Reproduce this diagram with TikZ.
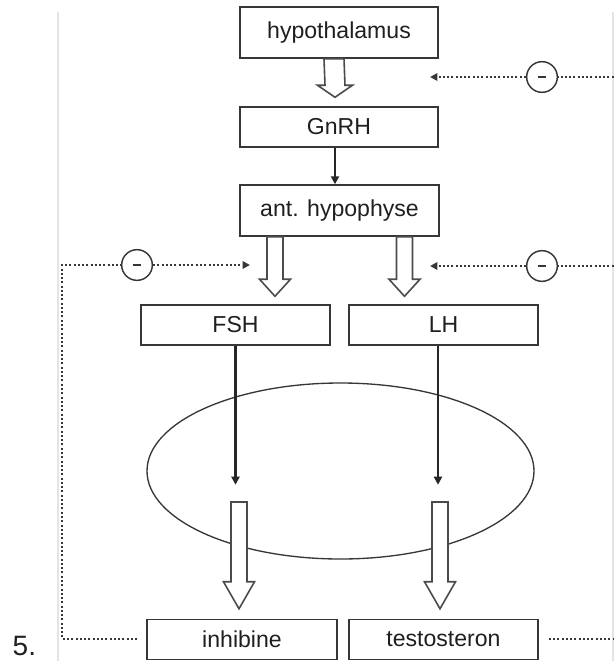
\documentclass[tikz,border=0pt]{standalone}
\usepackage{fontspec}
\setmainfont{Liberation Sans}
\usepackage{tikz}
\usetikzlibrary{arrows.meta,positioning,calc,shapes.geometric}
\definecolor{linegrey}{RGB}{55,55,55}
\definecolor{bordergrey}{RGB}{228,228,228}

% hollow block arrow: start, tip, head length, shaft half width
\newcommand{\fatarrow}[4]{%
  \draw[hollow] ($(#1)+(-#4,0)$) -- ($(#2)+(-#4,-#3)$) -- ($(#2)+(-#4-7.5,-#3)$) -- (#2)
    -- ($(#2)+(#4+7.5,-#3)$) -- ($(#2)+(#4,-#3)$) -- ($(#1)+(#4,0)$) -- cycle;}

\begin{document}
\begin{tikzpicture}[x=0.75pt, y=-0.75pt,
  every node/.style={font=\fontsize{17.3}{20}\selectfont, text=black!88},
  box/.style={draw=linegrey, line width=1.1pt, inner sep=0pt},
  hollow/.style={draw=linegrey!90, line width=1.2pt, fill=white, line join=miter},
  thinarrow/.style={draw=black!85, line width=1.6pt, -{Triangle[length=6pt,width=6pt]}},
  fb/.style={draw=linegrey, line width=2pt, dash pattern=on 1.5pt off 1.7pt},
  fbarrow/.style={fb, -{Triangle[length=5.5pt,width=5.5pt]}},
  minusnode/.style={circle, draw=linegrey, line width=1.1pt, minimum size=23pt, inner sep=0pt, fill=white,
    path picture={\draw[line width=2.2pt] ([xshift=-3.2pt]path picture bounding box.center) -- ([xshift=3.2pt]path picture bounding box.center);}}]
\useasboundingbox (0,0) rectangle (614,661);
% page borders
\draw[bordergrey, line width=0.8pt] (58,12) -- (58,661);
\draw[bordergrey, line width=0.8pt] (613,12) -- (613,661);

% boxes
\node[box, minimum width=148.5pt, minimum height=38.25pt] (hyp) at (339,32.5) {hypothalamus};
\node[box, minimum width=148.5pt, minimum height=30pt] (gnrh) at (339,127) {GnRH};
\node[box, minimum width=149.25pt, minimum height=38.25pt] (ant) at (339.5,210.5) {ant. hypophyse};
\node[box, minimum width=141.75pt, minimum height=30pt] (fsh) at (235.5,325) {FSH};
\node[box, minimum width=141.75pt, minimum height=30pt] (lh) at (443.5,325) {LH};
\node[box, minimum width=142.5pt, minimum height=30pt] (inh) at (242,639.5) {inhibine};
\node[box, minimum width=141.75pt, minimum height=30pt] (tes) at (443.5,639.5) {testosteron};
\node[ellipse, draw=linegrey, line width=1pt, minimum width=290.25pt, minimum height=132pt, inner sep=0pt] (cell) at (340.5,471) {};
\node[anchor=base west, font=\fontsize{21}{24}\selectfont] (num) at (8,655) {5.};

% block arrows
\coordinate (h1) at ($(hyp.south)+(-5,0)$);
\coordinate (h2) at ($(gnrh.north)+(-4,-9)$);
\fatarrow{h1}{h2}{12}{10}
\coordinate (a1) at ($(ant.south)+(-64.5,0)$);
\coordinate (a2) at ($(fsh.north)+(39.5,-8)$);
\fatarrow{a1}{a2}{17}{8}
\coordinate (a3) at ($(ant.south)+(65,0)$);
\coordinate (a4) at ($(lh.north)+(-39,-8)$);
\fatarrow{a3}{a4}{17}{8}
\coordinate (b1) at (239,502);
\coordinate (b2) at ($(inh.north)+(-3,-10)$);
\fatarrow{b1}{b2}{27}{8}
\coordinate (b3) at (440,502);
\coordinate (b4) at ($(tes.north)+(-3.5,-10)$);
\fatarrow{b3}{b4}{27}{8}

% thin arrows
\draw[thinarrow] ($(gnrh.south)+(-4,0)$) -- ($(ant.north)+(-4.5,0)$);
\draw[thinarrow] (fsh.south) -- ++(0,139);
\draw[thinarrow] ($(lh.south)+(-5.5,0)$) -- ++(0,139);

% negative feedback
\node[minusnode] (m1) at (137,265) {};
\node[minusnode] (m2) at (542,266) {};
\node[minusnode] (m3) at (542,77) {};
\coordinate (tipfsh) at (250,265);
\coordinate (tiplh) at (430,266);
\coordinate (tiphyp) at (430,77);
\draw[fb] ($(inh.west)+(-9,-0.5)$) -| (62,265) -- (m1);
\draw[fbarrow] (m1) -- (tipfsh);
\draw[fb] ($(tes.east)+(10,-0.5)$) -- (618,639);
\draw[fb] (618,266) -- (m2);
\draw[fbarrow] (m2) -- (tiplh);
\draw[fb] (618,77) -- (m3);
\draw[fbarrow] (m3) -- (tiphyp);
\end{tikzpicture}
\end{document}
